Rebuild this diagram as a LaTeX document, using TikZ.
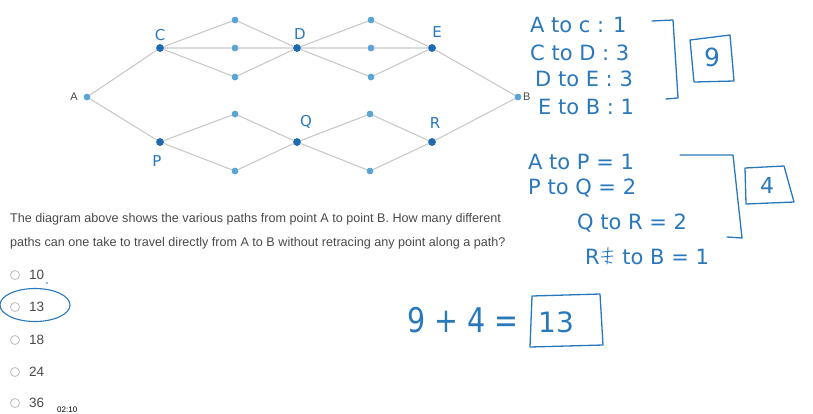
\documentclass[tikz,border=0pt]{standalone}
\usepackage{fontspec}
\setmainfont{Liberation Sans}
\newfontfamily\handfont{DejaVu Sans}
\definecolor{dotblue}{HTML}{5AA5D4}
\definecolor{markblue}{HTML}{1F6BB0}
\definecolor{edgegray}{HTML}{CACACA}
\definecolor{ink}{HTML}{2A78BC}
\definecolor{txtgray}{HTML}{4A4A4A}
\definecolor{radiogray}{HTML}{BDBDBD}
\begin{document}
\begin{tikzpicture}[x=1pt,y=-1pt,
  dot/.style={circle,fill=dotblue,inner sep=0pt,minimum size=6.5pt},
  mdot/.style={circle,fill=markblue,inner sep=0pt,minimum size=7.5pt},
  edge/.style={draw=edgegray,line width=1.1pt},
  hand/.style={text=ink,font=\handfont\fontsize{15}{15}\selectfont,inner sep=0pt},
  note/.style={text=ink,font=\handfont\fontsize{21}{21}\selectfont,inner sep=0pt,anchor=west},
  inkline/.style={draw=ink,line width=1.3pt,line cap=round,line join=round},
  qtext/.style={text=txtgray,font=\fontsize{12.6}{14}\selectfont,inner sep=0pt,anchor=base west},
  opt/.style={text=txtgray,font=\fontsize{13.5}{14}\selectfont,inner sep=0pt,anchor=west},
  radio/.style={circle,draw=radiogray,line width=0.8pt,inner sep=0pt,minimum size=9pt}
]
\fill[white] (0,0) rectangle (813,413);
\useasboundingbox (0,0) rectangle (813,413);

% graph nodes
\node[dot] (A) at (87,97) {};
\node[dot] (B) at (518,97) {};
\node[mdot] (C) at (160,48) {};
\node[mdot] (D) at (297,48) {};
\node[mdot] (E) at (432,48) {};
\node[dot] (t1) at (235,20) {};
\node[dot] (m1) at (235,48) {};
\node[dot] (b1) at (235,77) {};
\node[dot] (t2) at (371,20) {};
\node[dot] (m2) at (371,48) {};
\node[dot] (b2) at (371,77) {};
\node[mdot] (P) at (160,142) {};
\node[mdot] (Q) at (297,142) {};
\node[mdot] (R) at (432,142) {};
\node[dot] (u1) at (235,114) {};
\node[dot] (l1) at (235,171) {};
\node[dot] (u2) at (370,114) {};
\node[dot] (l2) at (370,171) {};

\path[edge] (A) -- (C) (A) -- (P)
  (C) -- (t1) -- (D) (C) -- (m1) -- (D) (C) -- (b1) -- (D)
  (D) -- (t2) -- (E) (D) -- (m2) -- (E) (D) -- (b2) -- (E)
  (E) -- (B)
  (P) -- (u1) -- (Q) (P) -- (l1) -- (Q)
  (Q) -- (u2) -- (R) (Q) -- (l2) -- (R)
  (R) -- (B);
% redraw dots on top
\foreach \n/\s in {A/dot,B/dot,t1/dot,m1/dot,b1/dot,t2/dot,m2/dot,b2/dot,u1/dot,l1/dot,u2/dot,l2/dot,C/mdot,D/mdot,E/mdot,P/mdot,Q/mdot,R/mdot}
  \node[\s] at (\n) {};

\node[text=txtgray,font=\fontsize{11}{11}\selectfont,anchor=east,inner sep=0pt] (Alab) at (78,97) {A};
\node[text=txtgray,font=\fontsize{11}{11}\selectfont,anchor=west,inner sep=0pt] (Blab) at (523,97) {B};

% handwritten graph labels
\node[hand] (lC) at (160,35) {C};
\node[hand] (lD) at (300,34) {D};
\node[hand] (lE) at (437,32) {E};
\node[hand] (lQ) at (306,122) {Q};
\node[hand] (lR) at (435,123) {R};
\node[hand] (lP) at (157,161) {P};

% notes upper
\node[note] (n1) at (530,25) {A to c : 1};
\node[note] (n2) at (530,53) {C to D : 3};
\node[note] (n3) at (535,79) {D to E : 3};
\node[note] (n4) at (538,107) {E to B : 1};
\coordinate (br1a) at (652,21);
\coordinate (br1b) at (673,20);
\coordinate (br1c) at (678,98);
\coordinate (br1d) at (666,99);
\draw[inkline] (br1a) -- (br1b) -- (br1c) -- (br1d);
\coordinate (bx1a) at (690,40);
\coordinate (bx1b) at (730,35);
\coordinate (bx1c) at (734,81);
\coordinate (bx1d) at (694,82);
\draw[inkline] (bx1a) -- (bx1b) -- (bx1c) -- (bx1d) -- cycle;
\node[hand,font=\handfont\fontsize{25}{25}\selectfont] (nine) at (712,57) {9};

% notes lower
\node[note] (n5) at (528,162) {A to P = 1};
\node[note] (n6) at (528,188) {P to Q = 2};
\node[note] (n7) at (577,223) {Q to R = 2};
\node[note] (n8) at (585,257) {R\hspace{16pt} to B = 1};
\draw[inkline,line width=0.9pt] (602,252) -- (613,251) (601,257) -- (613,256) (605,261) -- (612,263) (608,247) -- (607,264);
\coordinate (br2a) at (680,155);
\coordinate (br2b) at (733,155);
\coordinate (br2c) at (742,238);
\coordinate (br2d) at (727,237);
\draw[inkline] (br2a) -- (br2b) -- (br2c) -- (br2d);
\coordinate (bx2a) at (745,168);
\coordinate (bx2b) at (784,166);
\coordinate (bx2c) at (794,202);
\coordinate (bx2d) at (746,204);
\draw[inkline] (bx2a) -- (bx2b) -- (bx2c) -- (bx2d) -- cycle;
\node[hand,font=\handfont\fontsize{22}{22}\selectfont] (four) at (767,185) {4};

% sum
\node[note,font=\handfont\fontsize{34}{34}\selectfont,xscale=0.84] (sum) at (407,320) {9 + 4 =};
\coordinate (bx3a) at (532,296);
\coordinate (bx3b) at (600,294);
\coordinate (bx3c) at (603,345);
\coordinate (bx3d) at (530,347);
\draw[inkline] (bx3a) -- (bx3b) -- (bx3c) -- (bx3d) -- cycle;
\node[hand,font=\handfont\fontsize{28}{28}\selectfont] (thirteen) at (556,322) {13};

% question
\node[qtext] (q1) at (10,222) {The diagram above shows the various paths from point A to point B. How many different};
\node[qtext] (q2) at (10,246) {paths can one take to travel directly from A to B without retracing any point along a path?};

% options
\node[radio] (r1) at (15,275) {};
\node[radio] (r2) at (15,307) {};
\node[radio] (r3) at (15,340) {};
\node[radio] (r4) at (15,372) {};
\node[radio] (r5) at (15,403) {};
\node[opt] (o1) at (29,275) {10};
\node[opt] (o2) at (29,307) {13};
\node[opt] (o3) at (29,340) {18};
\node[opt] (o4) at (29,372) {24};
\node[opt] (o5) at (29,403) {36};
\fill[ink] (47,283) circle (0.8);
\draw[inkline,line width=1.1pt] (35,305) ellipse [x radius=35, y radius=16.5];
\node[font=\fontsize{8}{8}\selectfont,inner sep=0pt,anchor=base west] (time) at (57,412) {02:10};
\end{tikzpicture}
\end{document}
